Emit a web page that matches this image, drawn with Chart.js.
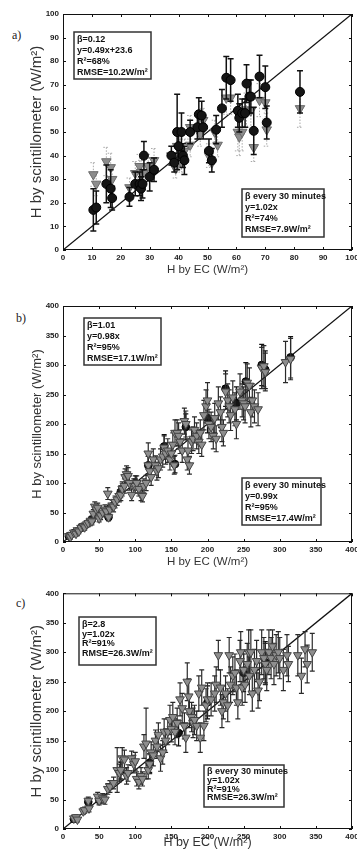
<!DOCTYPE html>
<html><head><meta charset="utf-8">
<script src="https://cdn.jsdelivr.net/npm/chart.js@4/dist/chart.umd.min.js"></script>
<style>
html,body{margin:0;padding:0;background:#fff;overflow:hidden;width:357px;height:853px;}
canvas{position:absolute;left:0;}
.lbl{position:absolute;font-family:"Liberation Serif","DejaVu Serif",serif;font-size:12px;color:#222;line-height:12px;}
</style></head><body>
<div class="lbl" style="left:12px;top:29px">a)</div>
<div class="lbl" style="left:16px;top:312px">b)</div>
<div class="lbl" style="left:16px;top:597px">c)</div>
<canvas id="ca" width="372" height="285" style="top:0px"></canvas>
<canvas id="cb" width="372" height="285" style="top:285px"></canvas>
<canvas id="cc" width="372" height="283" style="top:570px"></canvas>
<script>
// ---- data: [H by EC, H by scintillometer, error] ----
const aBetaFixed = [[10.5,17,9],[11.5,18,7],[15,28,8],[16.5,26,8],[17,22,5],[23,22.5,4],[25,28,5],[26.5,28,5],[27,26,5],[27.5,28,6],[28,40,6],[30,31,6],[31.5,34,5],[37.5,40,4],[38.5,37,4],[39.5,50,16],[40,44,6],[41,50,8],[41.5,40,5],[42,38,6],[44,50,5],[46.5,52,5],[47,57.5,7],[48,57,6],[48.5,52,5],[50.5,42,5],[51.5,38,5],[53,51,6],[55,60,8],[56.5,73,9],[58,72,9],[60.5,59,7],[61,56,6],[62,58,6],[63,58,6],[63.5,70.5,8],[64.5,65,7],[65,65,7],[66,50.5,10],[68,73.5,9],[70,69,9],[70.5,54,7],[82,67,9]];
const aBeta30 = [[10.5,32,5],[11.5,28,5],[15,37.5,6],[16.5,35,6],[17,30,5],[23,26.5,4],[25,32.5,5],[26.5,35.5,5],[27,33,5],[28,33,5],[29.5,35.5,5],[31.5,38,5],[37.5,40,4],[39,34.5,4],[39.5,44,5],[40.5,42,5],[41,37,4],[42,42,5],[44,52,5],[44,44.5,5],[47,52,5],[47.5,49,5],[48.5,55,5],[50.5,40,5],[51.5,37,4],[52.5,50,5],[53.5,44.5,5],[56.5,64.5,7],[58,64.5,7],[60.5,50,8],[61,48,8],[62,50,8],[63.5,59.5,7],[65,59,7],[66,43.5,6],[68,63.5,7],[70,62.5,7],[70.5,51,7],[82,60,8]];
const bBetaFixed = [[8,10,3],[15,15,4],[25,24,5],[40,38,6],[63,42,6],[80,85,10],[100,100,12],[118,130,15],[140,162,20],[155,132,15],[170,195,22],[200,210,25],[225,260,30],[240,235,28],[253,272,32],[275,300,35],[280,292,32],[315,313,35]];
const bBeta30 = [[8,10,3],[10,8,3],[12,12,3],[15,16,4],[18,14,4],[20,20,4],[22,18,4],[25,24,5],[28,27,5],[30,25,5],[33,30,5],[35,32,6],[38,36,6],[40,35,6],[42,48,7],[44,60,8],[46,55,8],[48,58,8],[50,40,6],[52,45,7],[55,50,7],[58,55,8],[60,52,8],[62,82,10],[63,42,6],[65,55,8],[68,62,9],[70,60,9],[72,68,10],[75,72,10],[78,78,10],[80,80,10],[82,90,12],[85,95,12],[86,110,14],[88,115,14],[90,112,14],[92,100,12],[95,80,10],[98,95,12],[100,95,12],[102,100,12],[105,90,12],[108,80,10],[110,78,10],[112,95,12],[115,100,13],[118,150,18],[118,130,15],[120,120,15],[122,110,14],[125,140,18],[128,130,16],[130,120,15],[132,125,16],[135,140,18],[138,145,18],[140,160,20],[142,150,18],[145,155,20],[148,140,18],[150,150,18],[152,165,20],[154,130,15],[155,185,22],[158,185,22],[160,180,22],[162,170,20],[165,155,20],[168,205,22],[170,200,22],[172,140,18],[173,155,20],[175,130,15],[178,170,20],[180,175,20],[182,190,22],[185,180,22],[188,170,20],[190,185,22],[192,165,20],[195,215,25],[198,230,28],[200,240,30],[202,200,25],[205,195,25],[208,180,22],[210,210,25],[212,175,22],[215,235,28],[218,220,26],[220,195,25],[222,185,22],[225,255,30],[228,240,28],[230,230,28],[232,215,26],[235,245,28],[238,225,28],[240,200,25],[245,255,30],[248,240,28],[250,235,28],[252,230,28],[255,270,32],[258,265,30],[260,220,25],[262,240,28],[265,230,28],[270,225,28],[275,295,35],[278,298,35],[280,288,32],[308,305,35],[315,310,35]];
const cBetaFixed = [[15,17,4],[35,46,6],[50,50,7],[80,98,15],[120,112,16],[160,163,22],[200,215,28],[250,265,32],[280,283,35]];
const cBeta30 = [[15,18,4],[18,20,4],[20,16,4],[28,30,5],[30,32,5],[35,48,6],[36,35,6],[48,55,7],[50,48,7],[55,52,8],[58,50,8],[62,68,9],[65,72,10],[70,78,10],[75,100,38],[78,95,15],[80,100,15],[82,120,18],[85,118,16],[88,90,14],[90,95,14],[95,120,12],[98,110,15],[100,115,15],[102,85,12],[105,80,12],[108,90,14],[110,85,12],[112,140,20],[115,145,60],[118,100,15],[120,110,16],[122,130,18],[125,125,18],[128,150,18],[130,140,20],[132,160,20],[135,120,22],[138,130,20],[140,165,22],[142,150,20],[145,165,22],[148,185,25],[150,170,22],[152,190,25],[155,165,22],[158,180,25],[162,220,28],[165,205,25],[168,175,22],[170,155,25],[172,250,32],[174,225,30],[175,200,28],[178,190,25],[180,180,25],[182,185,25],[185,175,25],[188,230,30],[190,155,25],[192,240,30],[195,175,25],[198,210,28],[200,220,28],[205,220,28],[210,230,30],[212,245,30],[215,295,25],[218,240,30],[220,200,28],[222,215,28],[225,230,30],[228,210,28],[230,295,30],[232,245,30],[235,260,32],[238,265,32],[240,240,30],[242,215,28],[245,285,35],[246,300,35],[248,240,30],[250,270,32],[252,245,30],[255,280,35],[257,300,38],[258,260,32],[260,300,38],[262,230,30],[265,270,35],[268,285,35],[270,235,30],[272,250,32],[275,300,38],[278,290,35],[280,280,35],[282,270,35],[285,300,38],[288,290,35],[290,310,28],[292,280,35],[295,295,35],[298,300,35],[300,290,35],[305,270,35],[310,295,35],[312,280,30],[325,295,35],[330,260,30],[335,305,30],[338,280,32],[345,300,32]];
const aAxisMax = 100, aStep = 10;
const bcAxisMax = 400, bcStep = 50;
const aTextFixed = ['β=0.12','y=0.49x+23.6','R²=68%','RMSE=10.2W/m²'];
const aText30 = ['β every 30 minutes','y=1.02x','R²=74%','RMSE=7.9W/m²'];
const bTextFixed = ['β=1.01','y=0.98x','R²=95%','RMSE=17.1W/m²'];
const bText30 = ['β every 30 minutes','y=0.99x','R²=95%','RMSE=17.4W/m²'];
const cTextFixed = ['β=2.8','y=1.02x','R²=91%','RMSE=26.3W/m²'];
const cText30 = ['β every 30 minutes','y=1.02x','R²=91%','RMSE=26.3W/m²'];

const SANS = '"Liberation Sans", Arial, sans-serif';

const errorBars = {
  id:'errorBars',
  beforeDatasetDraw(chart, args){
    const ds = chart.data.datasets[args.index];
    if(!ds.errors) return;
    const ys = chart.scales.y, ctx = chart.ctx, cap = ds.errCap;
    ctx.save();
    ctx.beginPath();
    ctx.rect(chart.chartArea.left, chart.chartArea.top, chart.chartArea.width, chart.chartArea.height);
    ctx.clip();
    ctx.strokeStyle = ds.errColor; ctx.lineWidth = ds.errWidth; ctx.setLineDash(ds.errDash || []);
    args.meta.data.forEach((pt,i)=>{
      const d = ds.data[i], e = ds.errors[i];
      const x = pt.x, y1 = ys.getPixelForValue(d.y + e), y2 = ys.getPixelForValue(d.y - e);
      ctx.beginPath();
      ctx.moveTo(x,y1); ctx.lineTo(x,y2);
      ctx.moveTo(x-cap,y1); ctx.lineTo(x+cap,y1);
      ctx.moveTo(x-cap,y2); ctx.lineTo(x+cap,y2);
      ctx.stroke();
    });
    ctx.restore();
  }
};

const frameTicks = {
  id:'frameTicks',
  afterDatasetsDraw(chart){
    const {ctx, chartArea:a, scales:{x,y}} = chart;
    ctx.save();
    ctx.strokeStyle = '#111'; ctx.lineWidth = 1;
    ctx.strokeRect(a.left+0.5, a.top+0.5, a.width-1, a.height-1);
    const L = 3;
    ctx.beginPath();
    x.ticks.forEach(t=>{ const px = Math.round(x.getPixelForValue(t.value))+0.5;
      ctx.moveTo(px,a.bottom); ctx.lineTo(px,a.bottom-L);
      ctx.moveTo(px,a.top); ctx.lineTo(px,a.top+L); });
    y.ticks.forEach(t=>{ const py = Math.round(y.getPixelForValue(t.value))+0.5;
      ctx.moveTo(a.left,py); ctx.lineTo(a.left+L,py);
      ctx.moveTo(a.right,py); ctx.lineTo(a.right-L,py); });
    ctx.stroke();
    ctx.restore();
  }
};

const textBoxes = {
  id:'textBoxes',
  afterDraw(chart, args, opts){
    const ctx = chart.ctx;
    (opts.boxes || []).forEach(b=>{
      ctx.save();
      ctx.fillStyle = '#fff';
      ctx.fillRect(b.x, b.y, b.w, b.h);
      ctx.strokeStyle = '#333'; ctx.lineWidth = 1.5;
      ctx.strokeRect(b.x, b.y, b.w, b.h);
      ctx.fillStyle = '#111';
      ctx.font = 'bold ' + b.size + 'px ' + SANS;
      ctx.textBaseline = 'middle';
      b.lines.forEach((s,i)=>{ ctx.fillText(s, b.x + 3, b.y + b.first + i*b.lh); });
      ctx.restore();
    });
  }
};

function pts(arr){ return arr.map(r=>({x:r[0], y:r[1]})); }
function errs(arr){ return arr.map(r=>r[2]); }

function makePanel(id, c){
  const tickFont = {family:SANS, size:8, weight:'bold'};
  return new Chart(document.getElementById(id), {
    type:'scatter',
    data:{datasets:c.datasets},
    options:{
      responsive:false, animation:false, events:[],
      layout:{padding:{left:c.padLeft, right:372-352, top:c.top, bottom:0}},
      plugins:{legend:{display:false}, tooltip:{enabled:false}, textBoxes:{boxes:c.boxes}},
      scales:{
        x:{type:'linear', min:0, max:c.max,
          ticks:{stepSize:c.step, autoSkip:false, maxRotation:0, padding:3, color:'#222', font:tickFont},
          grid:{display:false, drawTicks:false}, border:{display:false},
          title:{display:true, text:'H by EC (W/m²)', color:'#333', font:{family:SANS, size:c.xTitleSize}, padding:{top:0, bottom:c.xTitlePad}},
          afterFit:(s)=>{ s.height = c.xH; }},
        y:{type:'linear', min:0, max:c.max,
          ticks:{stepSize:c.step, autoSkip:false, padding:4, color:'#222', font:tickFont},
          grid:{display:false, drawTicks:false}, border:{display:false},
          title:{display:true, text:'H by scintillometer (W/m²)', color:'#333', font:{family:SANS, size:c.yTitleSize}, padding:0},
          afterFit:(s)=>{ s.width = 63 - c.padLeft; }}
      }
    },
    plugins:[errorBars, frameTicks, textBoxes]
  });
}

function diag(max){
  return {type:'line', data:[{x:0,y:0},{x:max,y:max}], borderColor:'#111', borderWidth:1.3, pointRadius:0, fill:false};
}

// Panel a
makePanel('ca', {
  max:aAxisMax, step:aStep, top:14, xH:35, padLeft:28, xTitleSize:11.5, xTitlePad:8, yTitleSize:15,
  datasets:[
    {data:pts(aBetaFixed), errors:errs(aBetaFixed), errColor:'#111', errWidth:1.5, errCap:3,
     pointStyle:'circle', pointRadius:4.5, backgroundColor:'#151515', borderColor:'#000', borderWidth:1},
    {data:pts(aBeta30), errors:errs(aBeta30), errColor:'#a8a8a8', errWidth:1, errDash:[1.5,1.5], errCap:3,
     pointStyle:'triangle', rotation:180, pointRadius:5.5, backgroundColor:'#8c8c8c', borderColor:'#6a6a6a', borderWidth:1},
    diag(aAxisMax)
  ],
  boxes:[
    {x:74, y:32, w:77, h:47, lines:aTextFixed, size:9, first:8, lh:11},
    {x:242, y:189, w:82, h:48, lines:aText30, size:9, first:8, lh:10.7}
  ]
});

// Panel b
makePanel('cb', {
  max:bcAxisMax, step:bcStep, top:21, xH:28, padLeft:30, xTitleSize:11.5, xTitlePad:1, yTitleSize:13,
  datasets:[
    {data:pts(bBeta30), errors:errs(bBeta30), errColor:'#2a2a2a', errWidth:1.2, errCap:2.5,
     pointStyle:'triangle', rotation:180, pointRadius:5, backgroundColor:'#8e8e8e', borderColor:'#444', borderWidth:1},
    {data:pts(bBetaFixed), errors:errs(bBetaFixed), errColor:'#111', errWidth:1.2, errCap:2.5,
     pointStyle:'circle', pointRadius:3.8, backgroundColor:'#151515', borderColor:'#000', borderWidth:1},
    diag(bcAxisMax)
  ],
  boxes:[
    {x:84, y:33, w:77, h:47, lines:bTextFixed, size:9, first:8, lh:10.7},
    {x:242, y:193, w:79, h:47, lines:bText30, size:9, first:8, lh:11}
  ]
});

// Panel c
makePanel('cc', {
  max:bcAxisMax, step:bcStep, top:23.3, xH:24, padLeft:28, xTitleSize:12.5, xTitlePad:3, yTitleSize:15,
  datasets:[
    {data:pts(cBeta30), errors:errs(cBeta30), errColor:'#2a2a2a', errWidth:1.2, errCap:2.5,
     pointStyle:'triangle', rotation:180, pointRadius:5, backgroundColor:'#8e8e8e', borderColor:'#444', borderWidth:1},
    {data:pts(cBetaFixed), errors:errs(cBetaFixed), errColor:'#111', errWidth:1.2, errCap:2.5,
     pointStyle:'circle', pointRadius:3.8, backgroundColor:'#151515', borderColor:'#000', borderWidth:1},
    diag(bcAxisMax)
  ],
  boxes:[
    {x:79, y:47, w:77, h:48, lines:cTextFixed, size:9, first:8, lh:9.5},
    {x:204, y:195, w:80, h:42, lines:cText30, size:9, first:6.5, lh:8.8}
  ]
});
</script>
</body></html>
